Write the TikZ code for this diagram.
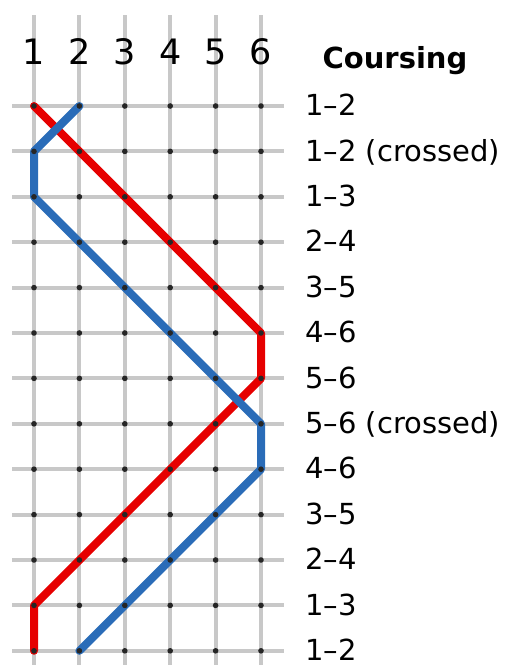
\documentclass[tikz,border=0pt]{standalone}
\usepackage{fontspec}
\setmainfont{DejaVu Sans}
\definecolor{gridgray}{RGB}{200,200,200}
\definecolor{bellred}{RGB}{230,0,0}
\definecolor{bellblue}{RGB}{42,108,184}

\begin{document}
\begin{tikzpicture}[x=1pt,y=-1pt,
  gridline/.style={line width=4pt,gridgray},
  redpath/.style={line width=8pt,bellred,line cap=round,line join=round},
  bluepath/.style={line width=8pt,bellblue,line cap=round,line join=round},
  bellnum/.style={font=\fontsize{35}{40}\selectfont,anchor=base,inner sep=0pt},
  rowlabel/.style={font=\fontsize{29}{34}\selectfont,anchor=base west,inner sep=0pt}]
\useasboundingbox (0,0) rectangle (505,665);

% Grid points (row-column)
\foreach \r in {1,...,13}
  \foreach \c in {1,...,6}
    \coordinate (p\r-\c) at ({34+(\c-1)*45.4},{106+(\r-1)*45.4});

% Vertical grid lines
\foreach \c in {1,...,6} {
  \coordinate (top\c) at ({34+(\c-1)*45.4},15);
  \coordinate (bot\c) at ({34+(\c-1)*45.4},668);
  \draw[gridline] (top\c) -- (bot\c);
}

% Horizontal grid lines
\foreach \r in {1,...,13} {
  \coordinate (lft\r) at (12,{106+(\r-1)*45.4});
  \coordinate (rgt\r) at (284,{106+(\r-1)*45.4});
  \draw[gridline] (lft\r) -- (rgt\r);
}

% Bell 1 (red)
\draw[redpath] (p1-1) -- (p2-2) -- (p3-3) -- (p4-4) -- (p5-5) -- (p6-6) -- (p7-6)
  -- (p8-5) -- (p9-4) -- (p10-3) -- (p11-2) -- (p12-1) -- (p13-1);

% Bell 2 (blue)
\draw[bluepath] (p1-2) -- (p2-1) -- (p3-1) -- (p4-2) -- (p5-3) -- (p6-4) -- (p7-5)
  -- (p8-6) -- (p9-6) -- (p10-5) -- (p11-4) -- (p12-3) -- (p13-2);

% Dots on grid points
\foreach \r in {1,...,13}
  \foreach \c in {1,...,6}
    \fill[black!85] (p\r-\c) circle (2.8);

% Place numbers
\node[bellnum] (n1) at (34,64) {1};
\node[bellnum] (n2) at (79.4,64) {2};
\node[bellnum] (n3) at (124.8,64) {3};
\node[bellnum] (n4) at (170.2,64) {4};
\node[bellnum] (n5) at (215.6,64) {5};
\node[bellnum] (n6) at (261,64) {6};

% Coursing labels
\node[font=\fontsize{29}{34}\selectfont\bfseries,anchor=base,inner sep=0pt] (head) at (395,68.5) {Coursing};
\node[rowlabel] (c1) at (305,115.7) {1–2};
\node[rowlabel] (c2) at (305,161.1) {1–2 (crossed)};
\node[rowlabel] (c3) at (305,206.5) {1–3};
\node[rowlabel] (c4) at (305,251.9) {2–4};
\node[rowlabel] (c5) at (305,297.3) {3–5};
\node[rowlabel] (c6) at (305,342.7) {4–6};
\node[rowlabel] (c7) at (305,388.1) {5–6};
\node[rowlabel] (c8) at (305,433.5) {5–6 (crossed)};
\node[rowlabel] (c9) at (305,478.9) {4–6};
\node[rowlabel] (c10) at (305,524.3) {3–5};
\node[rowlabel] (c11) at (305,569.7) {2–4};
\node[rowlabel] (c12) at (305,615.1) {1–3};
\node[rowlabel] (c13) at (305,660.5) {1–2};

\end{tikzpicture}
\end{document}
